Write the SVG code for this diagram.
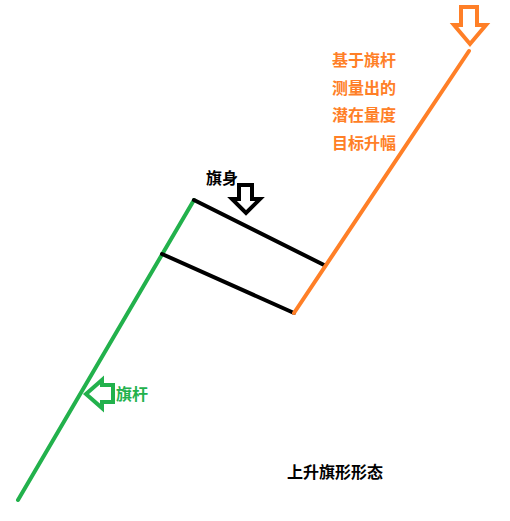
<svg xmlns="http://www.w3.org/2000/svg" width="510" height="521" viewBox="0 0 510 521">
<style>
.ln{stroke-width:4;stroke-linecap:round;fill:none}
.g{stroke:#22b14c}.o{stroke:#ff7f27}.k{stroke:#000}
.arr{fill:#fff;stroke-width:4;stroke-linejoin:miter}
.t{font-family:"Noto Sans CJK SC","Liberation Sans",sans-serif;font-weight:bold;font-size:16px}
</style>
<rect width="510" height="521" fill="#fff"/>
<g id="connectors">
<line class="ln g" x1="18" y1="500" x2="194" y2="200"/>
<line class="ln k" x1="194" y1="200" x2="324" y2="265"/>
<line class="ln k" x1="162" y1="254" x2="294" y2="313"/>
<line class="ln o" x1="294" y1="313" x2="469" y2="51"/>
</g>
<g id="flagpole-arrow">
<polygon class="arr" stroke="#22b14c" points="86,394 102,380 102,385 113,385 113,402 102,402 102,408"/>
<text class="t" x="116" y="400" fill="#22b14c">旗杆</text>
</g>
<g id="flag-body">
<polygon class="arr" stroke="#000" points="239,185 252,185 252,199 260,199 246,213 232,199 239,199"/>
<text class="t" x="206" y="184" fill="#000" font-size="15">旗身</text>
</g>
<g id="target">
<polygon class="arr" stroke="#ff7f27" points="461,7 477,7 477,25 486,25 470,44 454,25 461,25"/>
<text class="t" x="332" y="66" fill="#ff7f27">基于旗杆</text>
<text class="t" x="332" y="94" fill="#ff7f27">测量出的</text>
<text class="t" x="332" y="121" fill="#ff7f27">潜在量度</text>
<text class="t" x="332" y="149" fill="#ff7f27">目标升幅</text>
</g>
<g id="title">
<text class="t" x="287" y="478" fill="#000" font-size="15.5">上升旗形形态</text>
</g>
</svg>
